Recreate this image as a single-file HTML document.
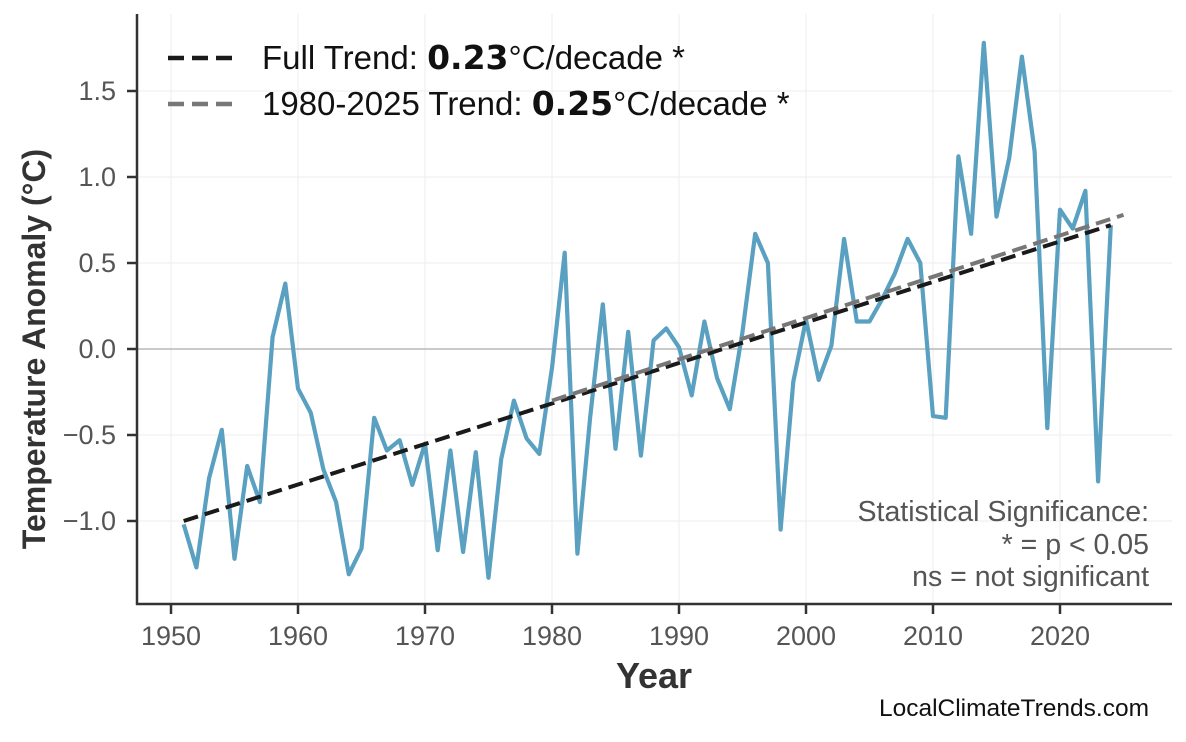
<!DOCTYPE html>
<html><head><meta charset="utf-8"><style>
body{margin:0;background:#fff}
text{font-family:"Liberation Sans",sans-serif}
</style></head><body>
<svg id="s" width="1186" height="737" xmlns="http://www.w3.org/2000/svg">
<g id="grid" stroke="#eeeeee" stroke-width="1"></g>
<line x1="137" y1="349" x2="1172" y2="349" stroke="#aaaaaa" stroke-width="1.3"/>
<polyline id="data" fill="none" stroke="#5aa0c0" stroke-width="4.2" stroke-linejoin="round"/>
<line id="t1" stroke="#1a1a1a" stroke-width="4" stroke-dasharray="15,7"/>
<line id="t2" stroke="#777" stroke-width="4" stroke-dasharray="15,7"/>
<line x1="137" y1="14" x2="137" y2="605" stroke="#333" stroke-width="2.5"/>
<line x1="136" y1="604" x2="1172" y2="604" stroke="#333" stroke-width="2.5"/>
<g id="ticks" fill="#555" font-size="27"></g>
<text x="45" y="349" transform="rotate(-90 45 349)" text-anchor="middle" font-size="32" font-weight="bold" fill="#333">Temperature Anomaly (°C)</text>
<text x="654" y="688" text-anchor="middle" font-size="36" font-weight="bold" fill="#333">Year</text>
<line x1="168" y1="58" x2="236" y2="58" stroke="#1a1a1a" stroke-width="4.5" stroke-dasharray="16,8"/>
<line x1="168" y1="104" x2="236" y2="104" stroke="#777" stroke-width="4.5" stroke-dasharray="16,8"/>
<text x="262" y="69" font-size="33" fill="#111">Full Trend: <tspan font-weight="bold" font-family="DejaVu Sans" font-size="33">0.23</tspan>°C/decade *</text>
<text x="262" y="115" font-size="33" fill="#111">1980-2025 Trend: <tspan font-weight="bold" font-family="DejaVu Sans" font-size="33">0.25</tspan>°C/decade *</text>
<text x="1149" y="521" text-anchor="end" font-size="28.5" fill="#555">Statistical Significance:</text>
<text x="1149" y="554" text-anchor="end" font-size="28.5" fill="#555">* = p &lt; 0.05</text>
<text x="1149" y="586" text-anchor="end" font-size="28.5" fill="#555">ns = not significant</text>
<text x="1149" y="716" text-anchor="end" font-size="24.5" fill="#111">LocalClimateTrends.com</text>
</svg>
<script>
var X=function(y){return 171+(y-1950)*12.7;},Y=function(v){return 349-v*172;};
var d=[-1.02,-1.27,-0.75,-0.47,-1.22,-0.68,-0.89,0.07,0.38,-0.23,-0.37,-0.70,-0.89,-1.31,-1.16,-0.40,-0.59,-0.53,-0.79,-0.55,-1.17,-0.59,-1.18,-0.60,-1.33,-0.64,-0.30,-0.52,-0.61,-0.11,0.56,-1.19,-0.40,0.26,-0.58,0.10,-0.62,0.05,0.12,0.01,-0.27,0.16,-0.17,-0.35,0.10,0.67,0.50,-1.05,-0.19,0.17,-0.18,0.02,0.64,0.16,0.16,0.29,0.44,0.64,0.50,-0.39,-0.40,1.12,0.67,1.78,0.77,1.11,1.70,1.15,-0.46,0.81,0.70,0.92,-0.77,0.72];
document.getElementById('data').setAttribute('points',d.map(function(v,i){return X(1951+i).toFixed(1)+','+Y(v).toFixed(1)}).join(' '));
function L(id,a,b,c,e){var l=document.getElementById(id);l.setAttribute('x1',X(a));l.setAttribute('y1',Y(b));l.setAttribute('x2',X(c));l.setAttribute('y2',Y(e));}
L('t1',1951,-1.00,2024,0.72);L('t2',1980,-0.30,2025,0.78);
var g=document.getElementById('grid'),t=document.getElementById('ticks'),ns='http://www.w3.org/2000/svg';
function el(p,n,a,txt){var e=document.createElementNS(ns,n);for(var k in a)e.setAttribute(k,a[k]);if(txt)e.textContent=txt;p.appendChild(e);}
for(var y=1950;y<=2020;y+=10){el(g,'line',{x1:X(y),x2:X(y),y1:14,y2:604});el(t,'line',{x1:X(y),x2:X(y),y1:604,y2:614,stroke:'#333','stroke-width':2.5});el(t,'text',{x:X(y),y:645,'text-anchor':'middle'},String(y));}
[-1,-0.5,0,0.5,1,1.5].forEach(function(v){el(g,'line',{x1:137,x2:1172,y1:Y(v),y2:Y(v)});el(t,'line',{x1:127,x2:137,y1:Y(v),y2:Y(v),stroke:'#333','stroke-width':2.5});el(t,'text',{x:116,y:Y(v)+9,'text-anchor':'end'},(v<0?'\u2212':'')+Math.abs(v).toFixed(1));});
</script>
</body></html>
